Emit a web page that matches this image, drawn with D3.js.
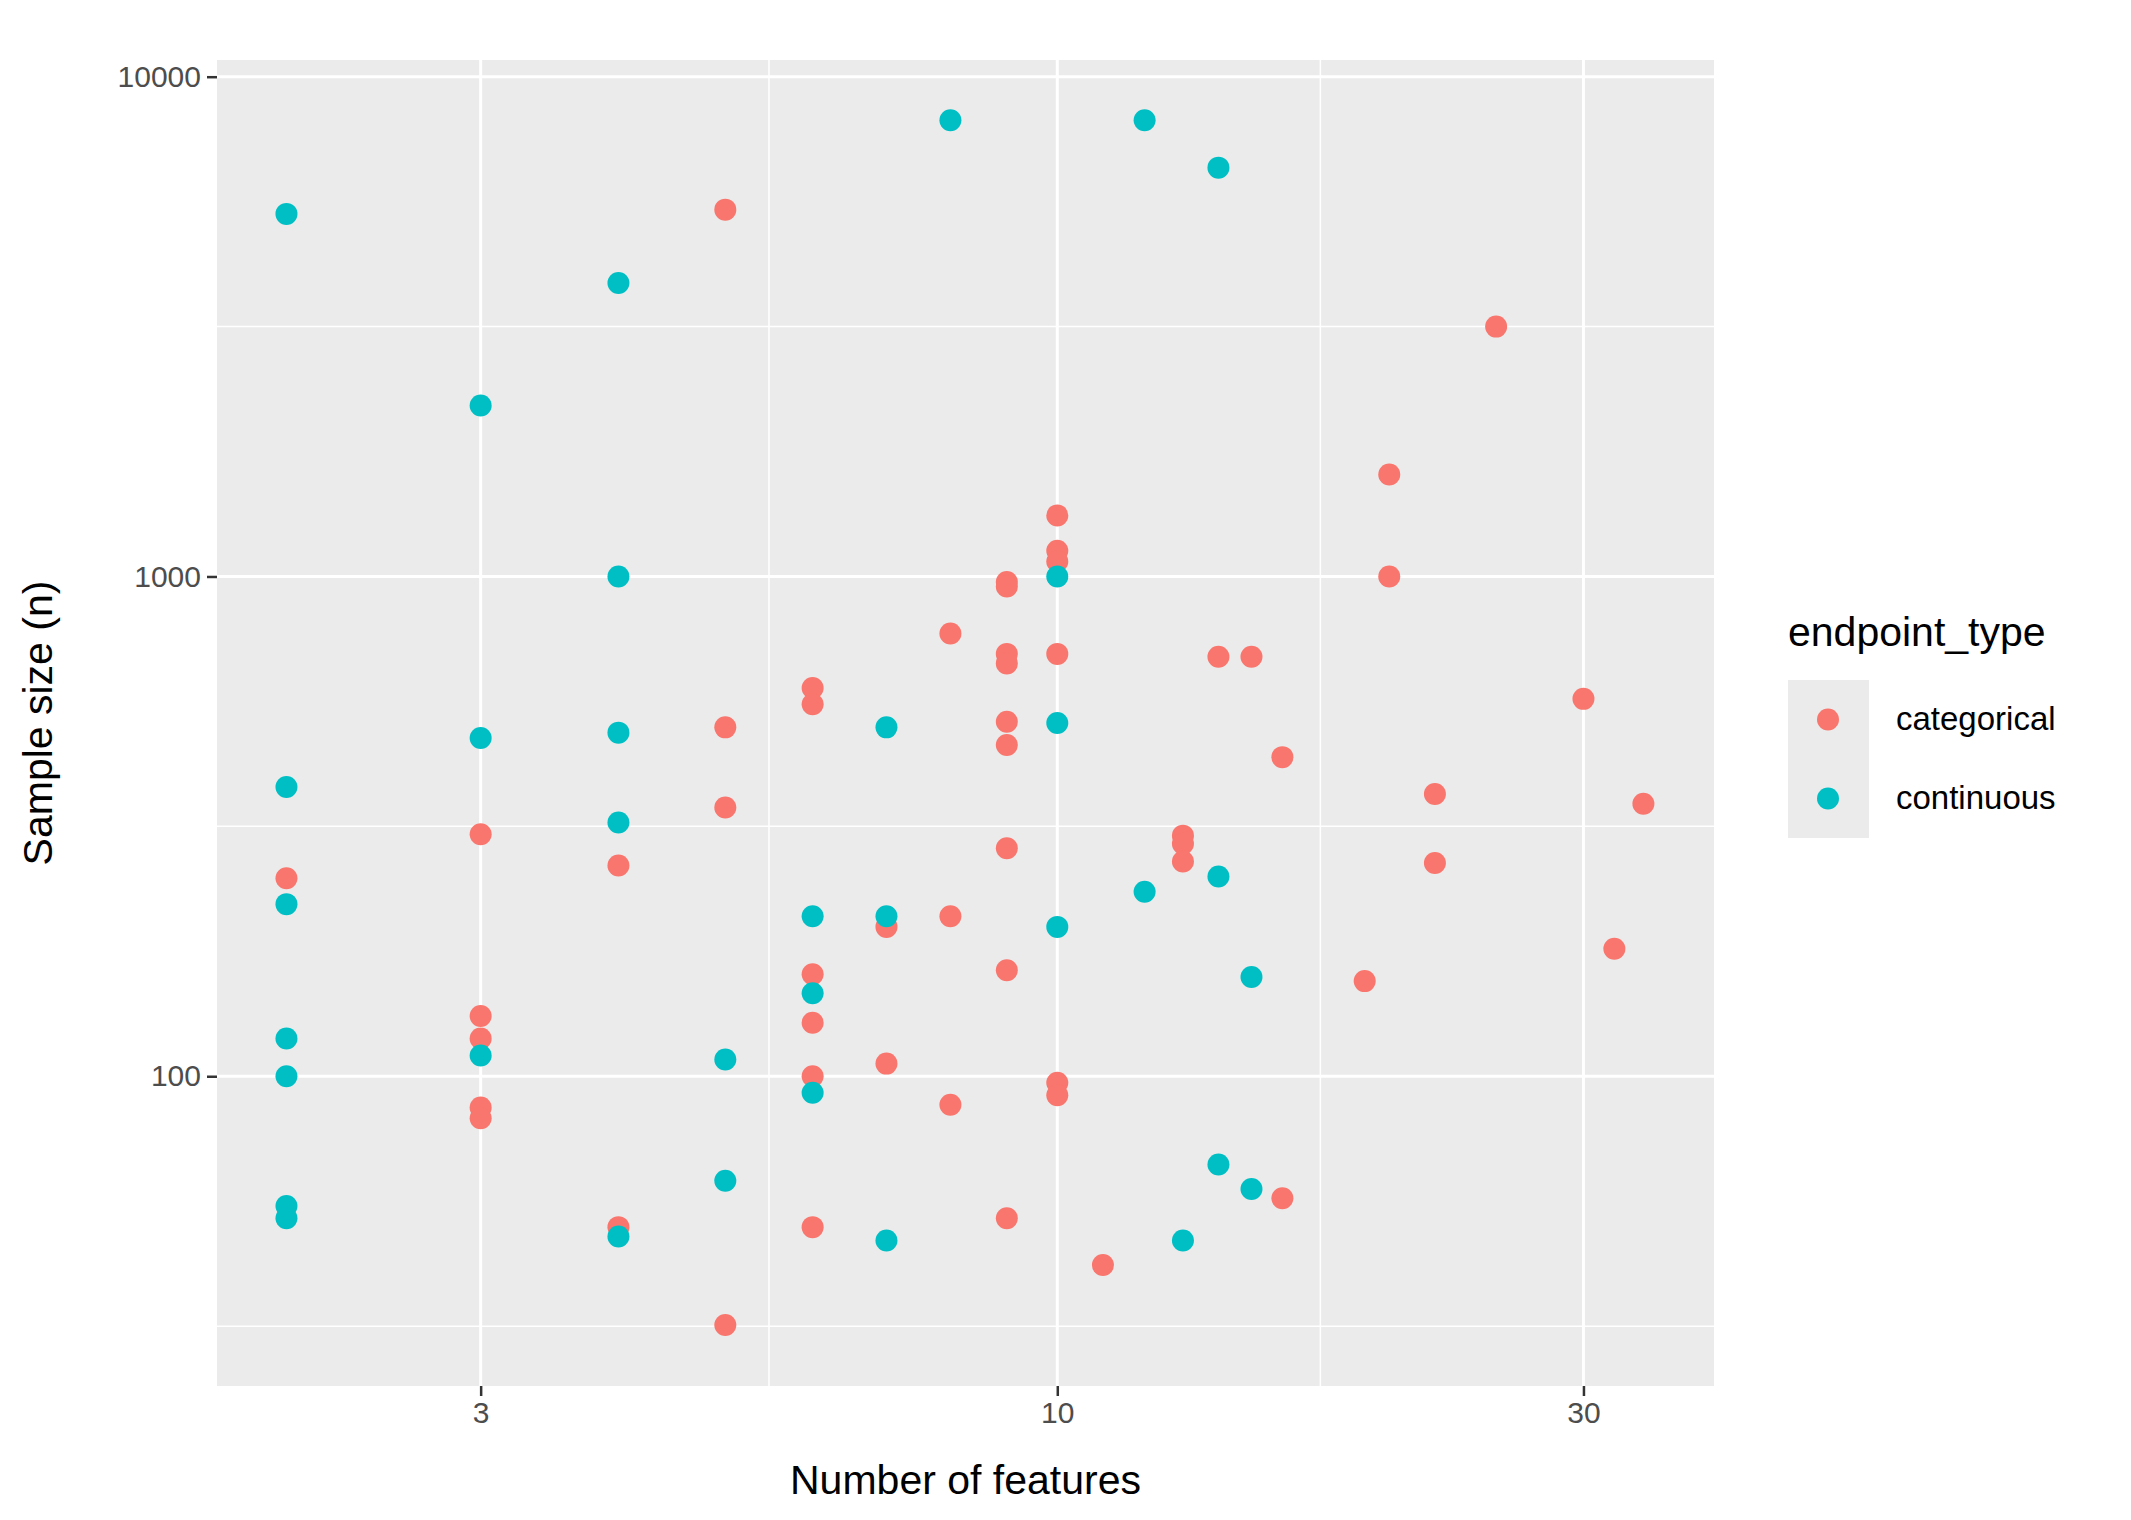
<!DOCTYPE html>
<html>
<head>
<script src="https://d3js.org/d3.v7.min.js"></script>
<style>
  body { margin: 0; background: #fff; }
  text { font-family: "Liberation Sans", Arial, sans-serif; }
</style>
</head>
<body>
<svg id="chart"></svg>
<script>
// data
const catX = [2,3,3,3,3,3,4,4,5,5,5,5,6,6,6,6,6,6,7,7,8,8,8,9,9,9,9,9,9,9,9,9,10,10,10,10,10,10,11,13,13,13,14,15,16,16,19,20,20,22,22,25,30,32,34];
const catY = [249,305,132,119,86.6,82.4,264,49.9,5420,499,345,31.8,598,555,160,128,100,49.9,199,106,769,209,87.7,975,955,700,670,512,460,286,163,52,1325,1126,1071,700,97,91.6,41.9,303,292,269,691,691,435,57,155,1600,1000,367,267,3162,569,180,351];
const conX = [2,2,2,2,2,2,2,3,3,3,4,4,4,4,4,5,5,6,6,6,7,7,7,8,10,10,10,12,12,13,14,14,14,15,15];
const conY = [5315,379,221,119,100,55,52,2198,475,110,3864,1000,487,322,47.8,108,61.8,209,146.6,92.7,499,209,46.9,8185,1000,509,199,8185,234,46.9,6577,251,66.6,158,59.5];
const xTicks = [3, 10, 30];
const yTicks = [100, 1000, 10000];
const xMinor = [Math.sqrt(30), Math.sqrt(300)];
const yMinor = [Math.sqrt(1000), Math.sqrt(1e5), Math.sqrt(1e7)];
const groups = ["categorical", "continuous"];
const colors = ["#F8766D", "#00BFC4"];

const W = 2131, H = 1520;
const P = {l: 217, r: 1714, t: 60, b: 1386};
const svg = d3.select("#chart").attr("width", W).attr("height", H);

const x = d3.scaleLog().domain([1.73, 39.4]).range([P.l, P.r]);
const y = d3.scaleLog().domain([24, 10800]).range([P.b, P.t]);

svg.append("rect").attr("x", P.l).attr("y", P.t)
  .attr("width", P.r - P.l).attr("height", P.b - P.t).attr("fill", "#EBEBEB");

const g = svg.append("g");
yMinor.forEach(v => g.append("line").attr("x1", P.l).attr("x2", P.r)
  .attr("y1", y(v)).attr("y2", y(v)).attr("stroke", "#fff").attr("stroke-width", 1.5));
xMinor.forEach(v => g.append("line").attr("y1", P.t).attr("y2", P.b)
  .attr("x1", x(v)).attr("x2", x(v)).attr("stroke", "#fff").attr("stroke-width", 1.5));
yTicks.forEach(v => g.append("line").attr("x1", P.l).attr("x2", P.r)
  .attr("y1", y(v)).attr("y2", y(v)).attr("stroke", "#fff").attr("stroke-width", 3));
xTicks.forEach(v => g.append("line").attr("y1", P.t).attr("y2", P.b)
  .attr("x1", x(v)).attr("x2", x(v)).attr("stroke", "#fff").attr("stroke-width", 3));

const pts = catX.map((v, i) => ({x: v, y: catY[i], k: 0}))
  .concat(conX.map((v, i) => ({x: v, y: conY[i], k: 1})));
svg.selectAll("circle.pt").data(pts).enter().append("circle")
  .attr("class", "pt")
  .attr("cx", d => x(d.x)).attr("cy", d => y(d.y)).attr("r", 11)
  .attr("fill", d => colors[d.k]);

const xAxis = svg.append("g").attr("transform", `translate(0,${P.b})`)
  .call(d3.axisBottom(x).tickValues(xTicks).tickFormat(d3.format("d")).tickSize(10).tickPadding(6));
const yAxis = svg.append("g").attr("transform", `translate(${P.l},0)`)
  .call(d3.axisLeft(y).tickValues(yTicks).tickFormat(d3.format("d")).tickSize(10).tickPadding(6));
[xAxis, yAxis].forEach(a => {
  a.select(".domain").remove();
  a.selectAll("line").attr("stroke", "#333").attr("stroke-width", 2.5);
  a.selectAll("text").attr("fill", "#4D4D4D").style("font-size", "30px");
});

svg.append("text").attr("x", (P.l + P.r) / 2).attr("y", 1494)
  .attr("text-anchor", "middle").style("font-size", "41px").text("Number of features");
svg.append("text").attr("transform", `translate(52,${(P.t + P.b) / 2}) rotate(-90)`)
  .attr("text-anchor", "middle").style("font-size", "41px").text("Sample size (n)");

const leg = svg.append("g");
leg.append("text").attr("x", 1788).attr("y", 646).style("font-size", "41px").text("endpoint_type");
groups.forEach((gname, i) => {
  const yy = 680 + i * 79;
  leg.append("rect").attr("x", 1788).attr("y", yy).attr("width", 81).attr("height", 79).attr("fill", "#EBEBEB");
  leg.append("circle").attr("cx", 1828).attr("cy", yy + 39.5).attr("r", 11).attr("fill", colors[i]);
  leg.append("text").attr("x", 1896).attr("y", yy + 50).style("font-size", "33px").text(gname);
});
</script>
</body>
</html>
